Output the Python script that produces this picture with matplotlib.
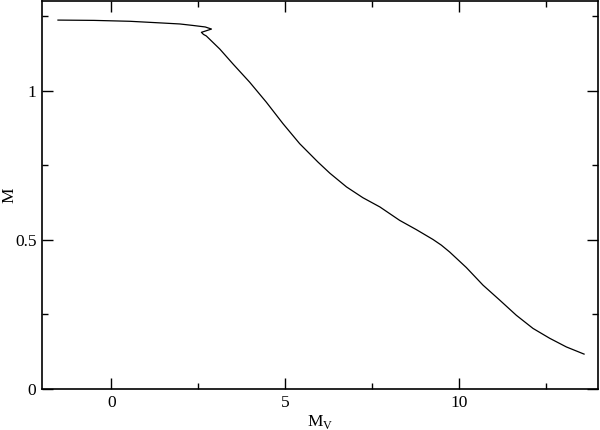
import matplotlib
matplotlib.use("Agg")
import matplotlib.pyplot as plt
from matplotlib.ticker import MultipleLocator, FuncFormatter

# absolute magnitude vs mass
mv = [-1.54, -0.5, 0.53, 1.5, 1.97, 2.35, 2.7, 2.88, 2.75, 2.59, 2.65, 2.73, 3.12, 3.50,
      3.98, 4.46, 4.94, 5.42, 5.95, 6.29, 6.77, 7.24, 7.73, 8.30, 8.78, 9.26, 9.50, 9.74,
      10.22, 10.70, 11.18, 11.66, 12.14, 12.62, 13.10, 13.61]
mass = [1.236, 1.235, 1.232, 1.226, 1.223, 1.218, 1.213, 1.206, 1.201, 1.195, 1.188, 1.183, 1.139, 1.089,
        1.028, 0.961, 0.889, 0.822, 0.760, 0.723, 0.677, 0.641, 0.610, 0.565, 0.534, 0.501, 0.482, 0.459,
        0.407, 0.348, 0.298, 0.247, 0.203, 0.170, 0.141, 0.117]

plt.rcParams['font.family'] = ['Liberation Serif', 'DejaVu Serif']
plt.rcParams['mathtext.fontset'] = 'custom'
plt.rcParams['mathtext.rm'] = 'Liberation Serif'

fig = plt.figure(figsize=(6, 4.3), dpi=100)
ax = fig.add_axes([0.07, 0.0953, 0.926, 0.9024])

ax.plot(mv, mass, color='black', lw=0.9)

ax.set_xlim(-2, 14)
ax.set_ylim(0, 1.3)
ax.xaxis.set_major_locator(MultipleLocator(5))
ax.xaxis.set_minor_locator(MultipleLocator(2.5))
ax.yaxis.set_major_locator(MultipleLocator(0.5))
ax.yaxis.set_minor_locator(MultipleLocator(0.25))
ax.yaxis.set_major_formatter(FuncFormatter(lambda v, p: f"{v:g}"))

ax.tick_params(which='both', direction='in', top=True, right=True, width=1, labelsize=12.5, pad=4)
ax.tick_params(which='major', length=7.7)
ax.tick_params(which='minor', length=4)
for s in ax.spines.values():
    s.set_linewidth(1.2)

ax.set_xlabel(r'M$_\mathrm{V}$', fontsize=12.5, labelpad=2)
ax.set_ylabel('M', fontsize=12.5)
ax.yaxis.set_label_coords(-0.044, 0.5)

fig.savefig('out.png', dpi=100)
